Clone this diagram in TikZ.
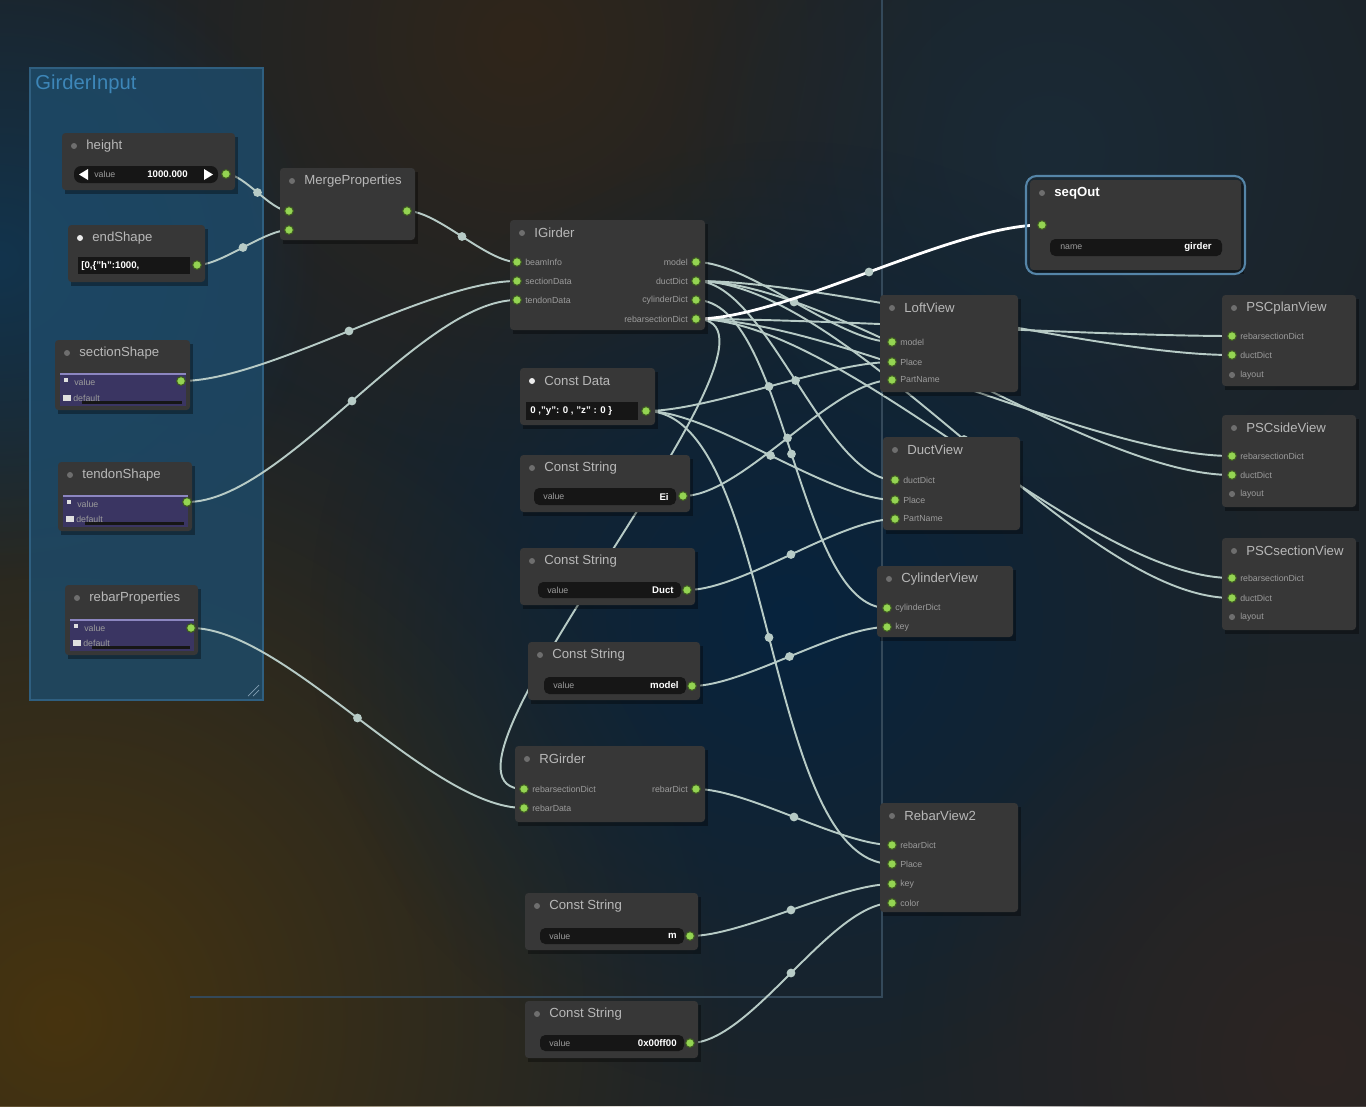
\documentclass[tikz,border=0pt]{standalone}
\usepackage{fontspec}
\setmainfont{Liberation Sans}
\usetikzlibrary{calc,fadings}
\definecolor{bgbase}{HTML}{1C2329}
\definecolor{bgbrown}{HTML}{47340F}
\definecolor{bgtop}{HTML}{30261A}
\definecolor{bgnavy}{HTML}{07243E}
\definecolor{bgleft}{HTML}{12344D}
\definecolor{bgwarm}{HTML}{2D2522}
\definecolor{bgright}{HTML}{1A2A36}
\definecolor{framecol}{HTML}{34495A}
\definecolor{groupblue}{HTML}{1E4A68}
\definecolor{groupedge}{HTML}{2F5F80}
\definecolor{grouptext}{HTML}{3D86B8}
\definecolor{nodegray}{HTML}{373737}
\definecolor{titlegray}{HTML}{B8B8B8}
\definecolor{icongray}{HTML}{6E6E6E}
\definecolor{labelgray}{HTML}{9C9C9C}
\definecolor{portgreen}{HTML}{94D452}
\definecolor{portring}{HTML}{3E5A22}
\definecolor{wiregray}{HTML}{B7CBC6}
\definecolor{wblack}{HTML}{161616}
\definecolor{wpurple}{HTML}{3A3562}
\definecolor{wpurpleedge}{HTML}{8C86C0}
\definecolor{hlblue}{HTML}{5585A8}
\tikzfading[name=glow, inner color=transparent!0, outer color=transparent!100]
\tikzset{
  gbody/.style={fill=nodegray, rounded corners=2pt},
  gtitle/.style={anchor=west, text=titlegray, inner sep=0, font=\fontsize{7.5}{8}\selectfont},
  plabel/.style={text=labelgray, inner sep=0, font=\fontsize{5}{5}\selectfont},
  port/.style={circle, fill=portgreen, draw=portring, line width=.6pt, inner sep=0, minimum size=5pt},
  idle/.style={circle, fill=icongray, inner sep=0, minimum size=3.5pt},
  wire/.style={draw=wiregray, line width=1.1pt},
  wdot/.style={circle, fill=wiregray, inner sep=0, minimum size=5pt},
  wlabel/.style={text=labelgray, inner sep=0, font=\fontsize{5}{5}\selectfont},
  wvalue/.style={text=white, inner sep=0, font=\bfseries\fontsize{5.5}{6}\selectfont},
}
% one graph node: [icon colour] x1 y1 x2 y2 name title
\newcommand{\gbox}[7][icongray]{%
  \fill[black,opacity=.35] (#2+3,#3+4) rectangle (#4+3,#5+4);
  \fill[gbody] (#2,#3) rectangle (#4,#5);
  \fill[#1] (#2+12,#3+13) circle (3);
  \node[gtitle] (#6) at (#2+24,#3+13) {#7};}
% link between two ports
\newcommand{\wire}[3][]{%
  \draw[wire,#1] let \p1=(#2), \p2=(#3), \n1={0.25*veclen(\x2-\x1,\y2-\y1)} in
    (\p1) .. controls +(\n1,0pt) and +(-\n1,0pt) .. (\p2) node[wdot,pos=.5]{};}
\newcommand{\pin}[2]{\node[port] (#1-dot) at (#1) {};
  \node[plabel,anchor=west] (#1-txt) at ([xshift=4.5pt]#1) {#2};}
\newcommand{\pout}[2]{\node[port] (#1-dot) at (#1) {};
  \node[plabel,anchor=east] (#1-txt) at ([xshift=-4.5pt]#1) {#2};}
\newcommand{\pidle}[2]{\node[idle] (#1-dot) at (#1) {};
  \node[plabel,anchor=west] (#1-txt) at ([xshift=4.5pt]#1) {#2};}
% string widget: name x1 y1 x2 y2 value
\newcommand{\strw}[6]{%
  \fill[wblack,rounded corners=3pt] (#2,#3) rectangle (#4,#5);
  \node[wlabel,anchor=west] (#1-k) at (#2+9,{(#3+#5)/2}) {value};
  \node[wvalue,anchor=east] (#1-v) at (#4-7,{(#3+#5)/2}) {#6};}
% object widget: name x1 y1 x2 y2
\newcommand{\objw}[5]{%
  \fill[wpurple] (#2,#3) rectangle (#4,#5);
  \draw[wpurpleedge,line width=.6pt] (#2,#3) -- (#4,#3);
  \fill[wblack] (#2+22,#5-5) rectangle (#4-4,#5-2);
  \fill[white!75!gray] (#2+4,#3+4) rectangle (#2+8,#3+8);
  \fill[white!75!gray] (#2+3,#5-11) rectangle (#2+11,#5-5);
  \node[wlabel,anchor=west] (#1-k) at (#2+14,#3+8) {value};
  \node[wlabel,anchor=west] (#1-v) at (#2+13,#5-8) {default};}

\begin{document}
\begin{tikzpicture}[x=0.02cm,y=-0.02cm]
\useasboundingbox (0,0) rectangle (1366,1106);
% background
\fill[bgbase] (0,0) rectangle (1366,1106);
\begin{scope}
\clip (0,0) rectangle (1366,1106);
\fill[bgbrown,path fading=glow] (60,1020) circle (680);
\fill[bgtop,path fading=glow] (520,40) circle (430);
\fill[bgright,path fading=glow] (1050,150) circle (380);
\fill[bgnavy,path fading=glow] (790,620) circle (480);
\fill[bgleft,path fading=glow] (0,260) circle (320);
\fill[bgwarm,path fading=glow] (1320,1060) circle (420);
\end{scope}
\draw[framecol,line width=.8pt] (882,0) -- (882,997) -- (190,997);

% GirderInput group
\fill[groupblue,opacity=.85] (30,68) rectangle (263,700);
\draw[groupedge,line width=.6pt] (30,68) rectangle (263,700);
\node[anchor=west,text=grouptext,inner sep=0,font=\fontsize{11.5}{12}\selectfont] (grp) at (35,84) {GirderInput};
\draw[groupedge!60!white] (248,696) -- (259,685) (253,696) -- (259,690);

% ports
\coordinate (h-o) at (226,174);
\coordinate (e-o) at (197,265);
\coordinate (m-i1) at (289,211);
\coordinate (m-i2) at (289,230);
\coordinate (m-o) at (407,211);
\coordinate (ig-i1) at (517,262);
\coordinate (ig-i2) at (517,281);
\coordinate (ig-i3) at (517,300);
\coordinate (ig-o1) at (696,262);
\coordinate (ig-o2) at (696,281);
\coordinate (ig-o3) at (696,300);
\coordinate (ig-o4) at (696,319);
\coordinate (ss-o) at (181,381);
\coordinate (ts-o) at (187,502);
\coordinate (rp-o) at (191,628);
\coordinate (cd-o) at (646,411);
\coordinate (c1-o) at (683,496);
\coordinate (c2-o) at (687,590);
\coordinate (c3-o) at (692,686);
\coordinate (rg-i1) at (524,789);
\coordinate (rg-i2) at (524,808);
\coordinate (rg-o) at (696,789);
\coordinate (c4-o) at (690,936);
\coordinate (c5-o) at (690,1043);
\coordinate (so-i) at (1042,225);
\coordinate (lv-i1) at (892,342);
\coordinate (lv-i2) at (892,362);
\coordinate (lv-i3) at (892,380);
\coordinate (dv-i1) at (895,480);
\coordinate (dv-i2) at (895,500);
\coordinate (dv-i3) at (895,519);
\coordinate (cv-i1) at (887,608);
\coordinate (cv-i2) at (887,627);
\coordinate (rv-i1) at (892,845);
\coordinate (rv-i2) at (892,864);
\coordinate (rv-i3) at (892,884);
\coordinate (rv-i4) at (892,903);
\coordinate (pp-i1) at (1232,336);
\coordinate (pp-i2) at (1232,355);
\coordinate (pp-i3) at (1232,375);
\coordinate (ps-i1) at (1232,456);
\coordinate (ps-i2) at (1232,475);
\coordinate (ps-i3) at (1232,494);
\coordinate (pc-i1) at (1232,578);
\coordinate (pc-i2) at (1232,598);
\coordinate (pc-i3) at (1232,617);

% links
\wire{h-o}{m-i1}
\wire{e-o}{m-i2}
\wire{m-o}{ig-i1}
\wire{ss-o}{ig-i2}
\wire{ts-o}{ig-i3}
\wire{rp-o}{rg-i2}
\wire{ig-o4}{rg-i1}
\wire{ig-o1}{lv-i1}
\wire{ig-o2}{dv-i1}
\wire{ig-o3}{cv-i1}
\foreach \v in {pp,ps,pc}{
  \wire{ig-o4}{\v-i1}
  \wire{ig-o2}{\v-i2}
}
\wire{cd-o}{lv-i2}
\wire{cd-o}{dv-i2}
\wire{cd-o}{rv-i2}
\wire{c1-o}{lv-i3}
\wire{c2-o}{dv-i3}
\wire{c3-o}{cv-i2}
\wire{rg-o}{rv-i1}
\wire{c4-o}{rv-i3}
\wire{c5-o}{rv-i4}
\wire[draw=white,line width=1.6pt]{ig-o4}{so-i}

% nodes
\gbox{62}{133}{235}{190}{height}{height}
\fill[wblack,rounded corners=4pt] (74,166) rectangle (218,183);
\fill[white] (79,174.5) -- (88,169) -- (88,180) -- cycle;
\fill[white] (213,174.5) -- (204,169) -- (204,180) -- cycle;
\node[wlabel,anchor=west] (height-k) at (94,174.5) {value};
\node[wvalue,anchor=east] (height-v) at (188,174.5) {1000.000};
\pout{h-o}{}

\gbox[white!85!gray]{68}{225}{205}{282}{endshape}{endShape}
\fill[wblack] (78,257) rectangle (190,274);
\node[wvalue,anchor=west] (endshape-v) at (81,265.5) {[0,\{"h":1000,};
\pout{e-o}{}

\gbox{280}{168}{415}{240}{merge}{MergeProperties}
\pin{m-i1}{}
\pin{m-i2}{}
\pout{m-o}{}

\gbox{510}{220}{705}{330}{igirder}{IGirder}
\pin{ig-i1}{beamInfo}
\pin{ig-i2}{sectionData}
\pin{ig-i3}{tendonData}
\pout{ig-o1}{model}
\pout{ig-o2}{ductDict}
\pout{ig-o3}{cylinderDict}
\pout{ig-o4}{rebarsectionDict}

\gbox{55}{340}{190}{410}{secshape}{sectionShape}
\objw{secshape}{60}{374}{186}{406}
\pout{ss-o}{}

\gbox{58}{462}{192}{531}{tenshape}{tendonShape}
\objw{tenshape}{63}{496}{188}{527}
\pout{ts-o}{}

\gbox{65}{585}{198}{655}{rebprop}{rebarProperties}
\objw{rebprop}{70}{620}{194}{651}
\pout{rp-o}{}

\gbox[white!85!gray]{520}{368}{655}{425}{cdata}{Const Data}
\fill[wblack] (526,402) rectangle (638,420);
\node[wvalue,anchor=west] (cdata-v) at (530,411) {0 ,"y": 0 , "z" : 0 \}};
\pout{cd-o}{}

\gbox{520}{455}{690}{512}{cstr1}{Const String}
\strw{cstr1}{534}{488}{676}{505}{Ei}
\pout{c1-o}{}

\gbox{520}{548}{695}{605}{cstr2}{Const String}
\strw{cstr2}{538}{582}{681}{598}{Duct}
\pout{c2-o}{}

\gbox{528}{642}{700}{700}{cstr3}{Const String}
\strw{cstr3}{544}{677}{686}{694}{model}
\pout{c3-o}{}

\gbox{515}{746}{705}{822}{rgirder}{RGirder}
\pin{rg-i1}{rebarsectionDict}
\pin{rg-i2}{rebarData}
\pout{rg-o}{rebarDict}

\gbox{525}{893}{698}{950}{cstr4}{Const String}
\strw{cstr4}{540}{928}{684}{944}{m}
\pout{c4-o}{}

\gbox{525}{1001}{698}{1058}{cstr5}{Const String}
\strw{cstr5}{540}{1035}{684}{1051}{0x00ff00}
\pout{c5-o}{}

\gbox{1030}{180}{1241}{270}{seqout}{\bfseries\color{white}seqOut}
\draw[hlblue,line width=1.2pt,rounded corners=6pt] (1026,176) rectangle (1245,274);
\fill[wblack,rounded corners=3pt] (1050,239) rectangle (1222,256);
\node[wlabel,anchor=west] (seqout-k) at (1060,247.5) {name};
\node[wvalue,anchor=east] (seqout-v) at (1212,247.5) {girder};
\pin{so-i}{}

\gbox{880}{295}{1018}{392}{loft}{LoftView}
\pin{lv-i1}{model}
\pin{lv-i2}{Place}
\pin{lv-i3}{PartName}

\gbox{883}{437}{1020}{530}{duct}{DuctView}
\pin{dv-i1}{ductDict}
\pin{dv-i2}{Place}
\pin{dv-i3}{PartName}

\gbox{877}{566}{1013}{637}{cyl}{CylinderView}
\pin{cv-i1}{cylinderDict}
\pin{cv-i2}{key}

\gbox{880}{803}{1018}{912}{rebar}{RebarView2}
\pin{rv-i1}{rebarDict}
\pin{rv-i2}{Place}
\pin{rv-i3}{key}
\pin{rv-i4}{color}

\gbox{1222}{295}{1356}{386}{pscplan}{PSCplanView}
\pin{pp-i1}{rebarsectionDict}
\pin{pp-i2}{ductDict}
\pidle{pp-i3}{layout}

\gbox{1222}{415}{1356}{507}{pscside}{PSCsideView}
\pin{ps-i1}{rebarsectionDict}
\pin{ps-i2}{ductDict}
\pidle{ps-i3}{layout}

\gbox{1222}{538}{1356}{630}{pscsec}{PSCsectionView}
\pin{pc-i1}{rebarsectionDict}
\pin{pc-i2}{ductDict}
\pidle{pc-i3}{layout}
\end{tikzpicture}
\end{document}
